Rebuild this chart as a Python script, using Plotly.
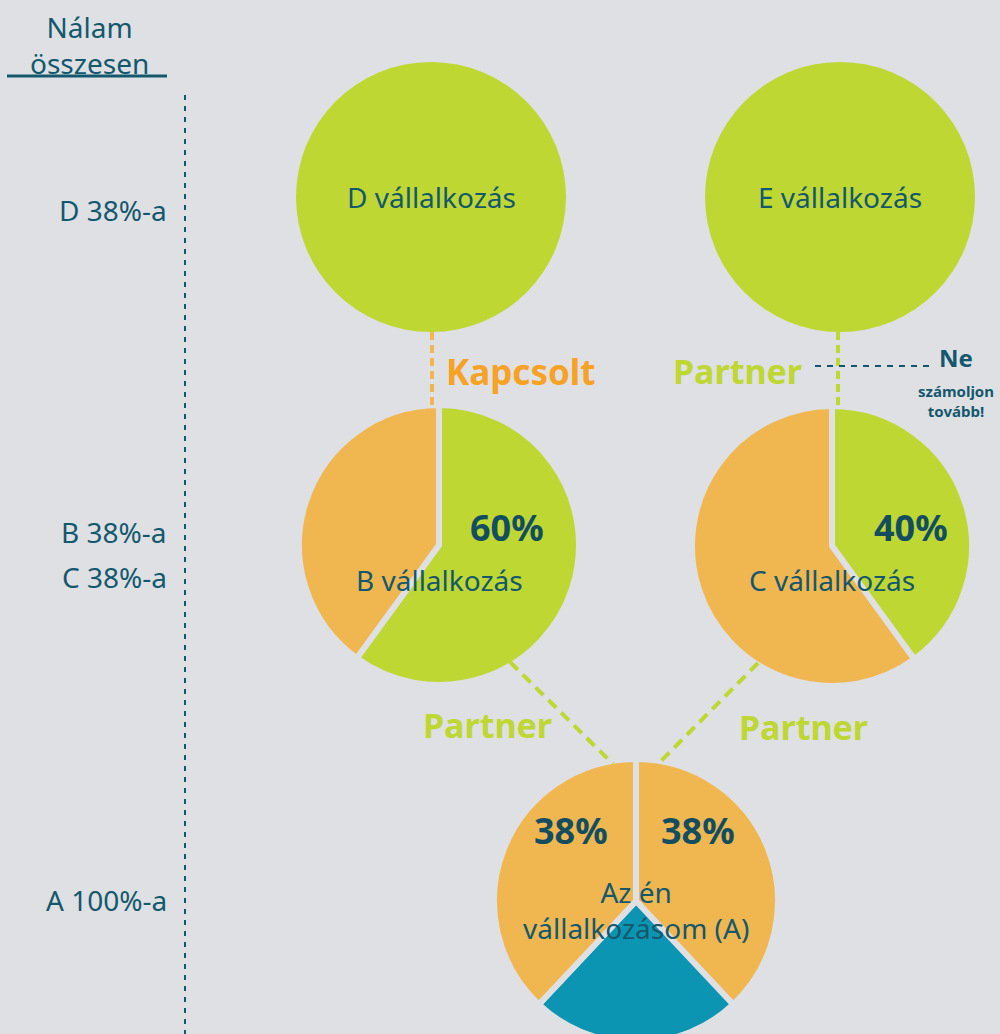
import plotly.graph_objects as go

W, H = 1000, 1050   # figure slightly taller than the 1034 window; bottom is hidden
BG = "#dfe0e4"
GREEN = "#bed732"
ORANGE = "#f0b650"
ORANGE_TXT = "#f7a125"
TEAL = "#0b95b3"
DARK = "#14586e"
DARK_B = "#124d60"
FONT = "Noto Sans"

# ---- data ----
d_values = [100]
e_values = [100]
b_values = [60, 40]          # partner share (green), rest (orange)
c_values = [40, 60]
a_values = [38, 24, 38]      # B share, own, C share
b_colors = [GREEN, ORANGE]
c_colors = [GREEN, ORANGE]
a_colors = [ORANGE, TEAL, ORANGE]
company_labels = ["D vállalkozás", "E vállalkozás", "B vállalkozás", "C vállalkozás"]
a_label = "Az én<br>vállalkozásom (A)"
level_labels = ["D 38%-a", "B 38%-a", "C 38%-a", "A 100%-a"]
header = "Nálam<br>összesen"
relation_labels = ["Kapcsolt", "Partner", "Partner", "Partner"]
stop_label = ["Ne", "számoljon<br>tovább!"]

# ---- layout geometry (pixel) ----
def dom(cx, cy, r):
    y0 = max(0.0, 1 - (cy + r) / H)
    y1 = min(1.0, 1 - (cy - r) / H)
    return dict(x=[(cx - r) / W, (cx + r) / W], y=[y0, y1])

fig = go.Figure()

def add_pie(values, colors, cx, cy, r, gap):
    fig.add_trace(go.Pie(
        values=values, sort=False, direction="clockwise", rotation=0,
        marker=dict(colors=colors, line=dict(color=BG, width=gap)),
        textinfo="none", hoverinfo="skip", showlegend=False,
        domain=dom(cx, cy, r + gap / 2)))

add_pie(d_values, [GREEN], 431, 197, 135, 0)
add_pie(e_values, [GREEN], 840, 197, 135, 0)
add_pie(b_values, b_colors, 439, 545, 137, 6)
add_pie(c_values, c_colors, 832, 546, 137, 6)
add_pie(a_values, a_colors, 636, 901, 139, 6)

# ---- connectors ----
shapes = [
    dict(type="line", x0=7, x1=167, y0=76, y1=76, line=dict(color=DARK, width=3)),
    dict(type="line", x0=185, x1=185, y0=95, y1=1050, line=dict(color=DARK, width=2, dash="5px,6px")),
    dict(type="line", x0=432, x1=432, y0=332, y1=408, line=dict(color=ORANGE, width=4, dash="8px,5px")),
    dict(type="line", x0=838, x1=838, y0=332, y1=410, line=dict(color=GREEN, width=4, dash="8px,5px")),
    dict(type="line", x0=815, x1=930, y0=366, y1=366, line=dict(color=DARK, width=2, dash="6px,6px")),
    dict(type="line", x0=510, x1=613, y0=662, y1=764, line=dict(color=GREEN, width=4, dash="11px,7px")),
    dict(type="line", x0=758, x1=658, y0=663, y1=764, line=dict(color=GREEN, width=4, dash="11px,7px")),
]

ann = []
def txt(x, y, t, size, color=DARK, bold=False, xanchor="center"):
    ann.append(dict(x=x, y=y, xref="x", yref="y", text=("<b>%s</b>" % t) if bold else t,
                    showarrow=False, xanchor=xanchor, yanchor="middle",
                    font=dict(family=FONT, size=size, color=color)))

REG = 28
txt(89, 45, header, REG)
txt(169, 210, level_labels[0], REG, xanchor="right")
txt(169, 532, level_labels[1], REG, xanchor="right")
txt(169, 577, level_labels[2], REG, xanchor="right")
txt(169, 900, level_labels[3], REG, xanchor="right")

txt(431, 197, company_labels[0], REG)
txt(840, 197, company_labels[1], REG)
txt(439, 580, company_labels[2], REG)
txt(832, 580, company_labels[3], REG)
txt(636, 910, a_label, REG)

txt(520, 371, relation_labels[0], 35, ORANGE_TXT, True)
txt(737, 371, relation_labels[1], 34, GREEN, True)
txt(487, 725, relation_labels[2], 34, GREEN, True)
txt(803, 727, relation_labels[3], 34, GREEN, True)

txt(956, 357, stop_label[0], 24, DARK, True)
txt(956, 401, stop_label[1], 15, DARK, True)

PCT = 36
txt(507, 527, "%d%%" % b_values[0], PCT, DARK_B, True)
txt(911, 527, "%d%%" % c_values[0], PCT, DARK_B, True)
txt(571, 830, "%d%%" % a_values[2], PCT, DARK_B, True)
txt(698, 830, "%d%%" % a_values[0], PCT, DARK_B, True)

fig.update_layout(
    width=W, height=H, margin=dict(l=0, r=0, t=0, b=0),
    paper_bgcolor=BG, plot_bgcolor=BG,
    xaxis=dict(range=[0, W], visible=False, fixedrange=True),
    yaxis=dict(range=[H, 0], visible=False, fixedrange=True),
    shapes=shapes, annotations=ann, showlegend=False,
)
fig.write_html("out.html", config={"displayModeBar": False},
               post_script="document.body.style.margin='0';document.body.style.overflow='hidden';")
